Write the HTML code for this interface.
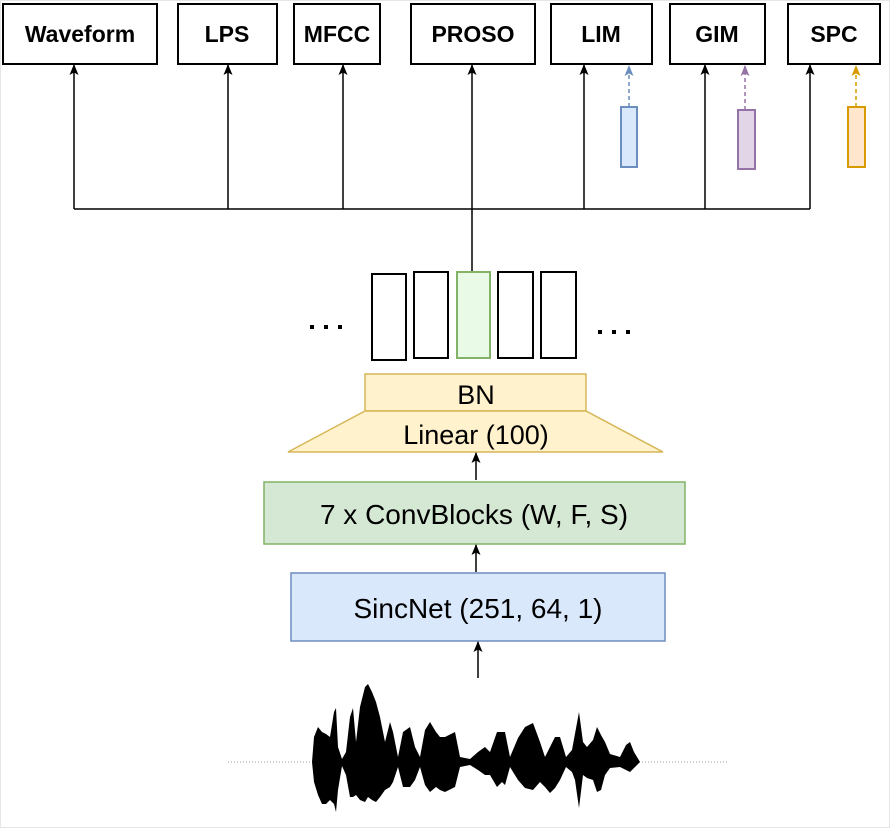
<!DOCTYPE html>
<html><head><meta charset="utf-8"><style>
html,body{margin:0;padding:0;background:#fff;}
svg{display:block;}
</style></head><body>
<svg width="890" height="828" viewBox="0 0 890 828" xmlns="http://www.w3.org/2000/svg" font-family="Liberation Sans, sans-serif">
<defs>
<marker id="ab" markerWidth="11" markerHeight="9" refX="10" refY="4.5" orient="auto" markerUnits="userSpaceOnUse" viewBox="0 0 11 9"><path d="M0,0 L11,4.5 L0,9 L2.5,4.5 Z" fill="#000"/></marker>
<marker id="abl" markerWidth="11" markerHeight="9" refX="10" refY="4.5" orient="auto" markerUnits="userSpaceOnUse" viewBox="0 0 11 9"><path d="M0,0 L11,4.5 L0,9 L2.5,4.5 Z" fill="#6c8ebf"/></marker>
<marker id="apu" markerWidth="11" markerHeight="9" refX="10" refY="4.5" orient="auto" markerUnits="userSpaceOnUse" viewBox="0 0 11 9"><path d="M0,0 L11,4.5 L0,9 L2.5,4.5 Z" fill="#9673a6"/></marker>
<marker id="aor" markerWidth="11" markerHeight="9" refX="10" refY="4.5" orient="auto" markerUnits="userSpaceOnUse" viewBox="0 0 11 9"><path d="M0,0 L11,4.5 L0,9 L2.5,4.5 Z" fill="#d79b00"/></marker>
</defs>
<rect x="0.5" y="0.5" width="889" height="827" fill="none" stroke="#e6e6e6"/>
<g fill="#fff" stroke="#000" stroke-width="2">
<rect x="3" y="4" width="154" height="60"/>
<rect x="178" y="4" width="99" height="60"/>
<rect x="294" y="4" width="86" height="60"/>
<rect x="411" y="4" width="124" height="60"/>
<rect x="551" y="4" width="101" height="60"/>
<rect x="670" y="4" width="95" height="60"/>
<rect x="788" y="4" width="92" height="60"/>
</g>
<g font-weight="bold" font-size="23" text-anchor="middle" fill="#000">
<text x="80" y="42">Waveform</text>
<text x="227" y="42">LPS</text>
<text x="337" y="42">MFCC</text>
<text x="473" y="42">PROSO</text>
<text x="601" y="42">LIM</text>
<text x="717" y="42">GIM</text>
<text x="834" y="42">SPC</text>
</g>
<g stroke="#000" stroke-width="1.5" fill="none">
<path d="M74,209 H810"/>
<line x1="74" y1="209" x2="74" y2="65" marker-end="url(#ab)"/>
<line x1="228" y1="209" x2="228" y2="65" marker-end="url(#ab)"/>
<line x1="343" y1="209" x2="343" y2="65" marker-end="url(#ab)"/>
<line x1="472" y1="272" x2="472" y2="65" marker-end="url(#ab)"/>
<line x1="584" y1="209" x2="584" y2="65" marker-end="url(#ab)"/>
<line x1="705" y1="209" x2="705" y2="65" marker-end="url(#ab)"/>
<line x1="810" y1="209" x2="810" y2="65" marker-end="url(#ab)"/>
</g>
<line x1="629" y1="107" x2="629" y2="66" stroke="#6c8ebf" stroke-width="1.5" stroke-dasharray="4,3" marker-end="url(#abl)"/>
<line x1="745" y1="110" x2="745" y2="66" stroke="#9673a6" stroke-width="1.5" stroke-dasharray="4,3" marker-end="url(#apu)"/>
<line x1="856" y1="107" x2="856" y2="66" stroke="#d79b00" stroke-width="1.5" stroke-dasharray="4,3" marker-end="url(#aor)"/>
<rect x="621" y="107" width="16" height="60" fill="#dae8fc" stroke="#6c8ebf" stroke-width="2"/>
<rect x="738" y="110" width="17" height="59" fill="#e1d5e7" stroke="#9673a6" stroke-width="2"/>
<rect x="848" y="107" width="17" height="60" fill="#ffe6cc" stroke="#d79b00" stroke-width="2"/>
<g stroke="#000" stroke-width="2" fill="#fff">
<rect x="372" y="274" width="34" height="86"/>
<rect x="414" y="272" width="34" height="86"/>
<rect x="498" y="272" width="35" height="86"/>
<rect x="541" y="272" width="35" height="86"/>
</g>
<rect x="457" y="272" width="33" height="86" fill="#e9fbe6" stroke="#82b366" stroke-width="2"/>
<g fill="#000">
<rect x="310" y="325" width="4" height="4"/><rect x="324" y="325" width="4" height="4"/><rect x="338" y="325" width="4" height="4"/>
<rect x="598" y="330" width="4" height="4"/><rect x="612" y="330" width="4" height="4"/><rect x="626" y="330" width="4" height="4"/>
</g>
<rect x="365" y="374" width="221" height="37" fill="#fff2cc" stroke="#d6b656" stroke-width="1.5"/>
<path d="M365,411 H586 L663,452 H288 Z" fill="#fff2cc" stroke="#d6b656" stroke-width="1.5"/>
<text x="476" y="404" font-size="27" text-anchor="middle">BN</text>
<text x="476" y="444" font-size="27" text-anchor="middle">Linear (100)</text>
<rect x="264" y="482" width="421" height="62" fill="#d5e8d4" stroke="#82b366" stroke-width="1.5"/>
<text x="474" y="524" font-size="28" text-anchor="middle">7 x ConvBlocks (W, F, S)</text>
<rect x="291" y="573" width="374" height="68" fill="#dae8fc" stroke="#6c8ebf" stroke-width="1.5"/>
<text x="478" y="618" font-size="28" text-anchor="middle">SincNet (251, 64, 1)</text>
<g stroke="#000" stroke-width="1.5">
<line x1="476" y1="480" x2="476" y2="453" marker-end="url(#ab)"/>
<line x1="476" y1="572" x2="476" y2="545" marker-end="url(#ab)"/>
<line x1="478" y1="678" x2="478" y2="642" marker-end="url(#ab)"/>
</g>
<line x1="228" y1="762" x2="727" y2="762" stroke="#999" stroke-width="1" stroke-dasharray="1,2"/>
<path fill="#000" d="M312,762 L314,737 L318,727 L322,732 L326,734 L330,737 L334,712 L336,708 L338,747 L342,759 L346,752 L350,717 L353,708 L356,742 L360,707 L365,687 L368,684 L372,692 L376,702 L380,717 L385,742 L390,722 L393,732 L398,757 L403,732 L410,727 L415,747 L420,757 L425,730 L430,722 L436,732 L440,737 L445,737 L455,732 L460,757 L470,759 L478,752 L485,747 L490,752 L497,732 L502,732 L505,732 L510,757 L518,738 L525,727 L533,723 L540,742 L545,757 L550,747 L555,737 L560,737 L566,757 L572,750 L579,712 L583,742 L587,747 L593,740 L597,727 L601,735 L605,742 L610,754 L620,757 L626,745 L630,742 L634,752 L640,762
L634,768 L630,772 L626,770 L620,767 L610,768 L605,775 L601,790 L597,792 L593,780 L587,778 L583,775 L579,808 L575,780 L572,772 L566,767 L560,780 L555,788 L550,793 L545,787 L540,782 L533,790 L525,788 L518,780 L510,767 L505,785 L502,782 L497,787 L490,775 L485,775 L478,770 L470,765 L460,767 L455,787 L445,792 L440,790 L436,787 L430,792 L425,785 L420,767 L415,780 L410,787 L403,787 L398,767 L393,782 L390,787 L385,790 L380,797 L376,802 L372,800 L368,797 L365,802 L360,800 L356,795 L353,797 L350,797 L346,775 L342,766 L338,790 L336,812 L334,804 L330,800 L326,804 L322,804 L318,795 L314,782 Z"/>
</svg>
</body></html>
